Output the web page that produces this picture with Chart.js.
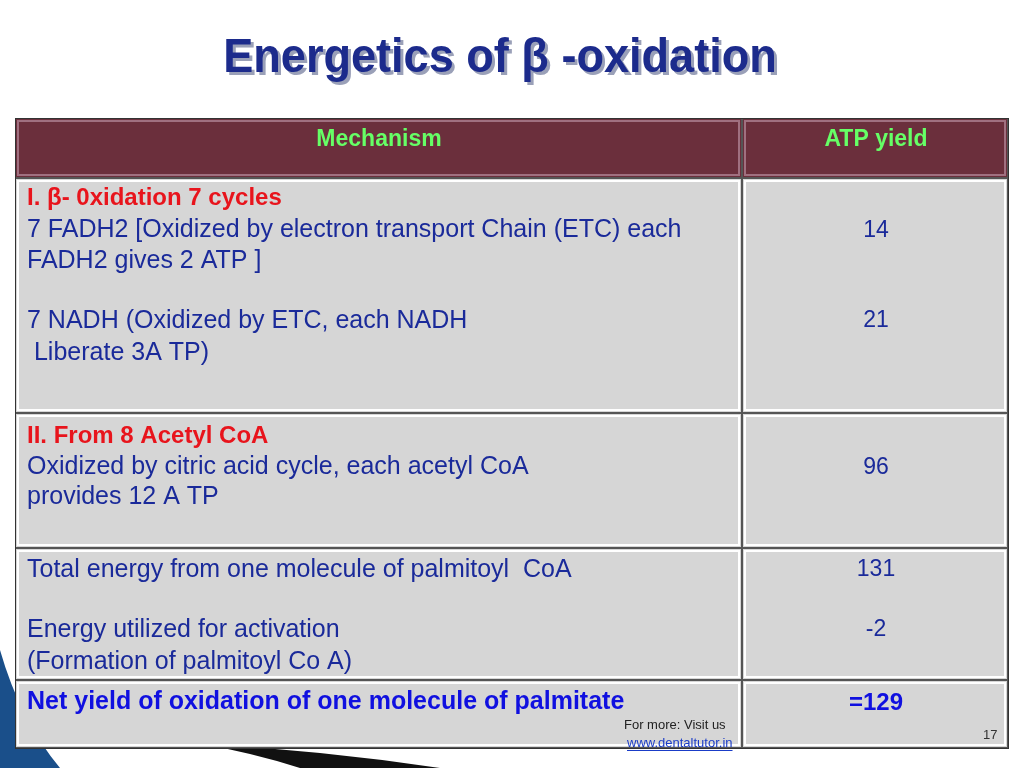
<!DOCTYPE html>
<html><head><meta charset="utf-8">
<script src="https://cdn.jsdelivr.net/npm/chart.js@4.4.1/dist/chart.umd.min.js"></script>
<style>html,body{margin:0;padding:0;background:#fff;overflow:hidden}#w{width:1024px;height:768px;position:relative}</style>
</head><body><div id="w"><canvas id="c" width="1024" height="768"></canvas></div>
<script>
const title = "Energetics of \u03b2 -oxidation";
const headers = ["Mechanism", "ATP yield"];
const mechanismLines = [
 ["I. \u03b2- 0xidation 7 cycles", "7 FADH2 [Oxidized by electron transport Chain (ETC) each", "FADH2 gives 2 ATP ]", "", "7 NADH (Oxidized by ETC, each NADH", " Liberate 3A TP)"],
 ["II. From 8 Acetyl CoA", "Oxidized by citric acid cycle, each acetyl CoA", "provides 12 A TP"],
 ["Total energy from one molecule of palmitoyl  CoA", "", "Energy utilized for activation", "(Formation of palmitoyl Co A)"],
 ["Net yield of oxidation of one molecule of palmitate"]
];
const atpLabels = [["14", "21"], ["96"], ["131", "-2"], ["=129"]];
const footer = ["For more: Visit us", "www.dentaltutor.in", "17"];

const rowTops = [118,178,413,548,680,748];
const colX = [15,742,1008];
const lineY = [[198,230,261,291,321,353],[436,467,497],[570,600,630,662],[702]];
const atpY = [[231,321],[468],[570,630],[703]];
const F = '"Liberation Sans", Arial, sans-serif';

const tablePlugin = {
 id:'table',
 beforeDraw(chart){
  const ctx=chart.ctx;
  ctx.save();
  ctx.fillStyle='#fff';ctx.fillRect(0,0,1024,768);
  ctx.fillStyle='#1a4f8a';
  ctx.beginPath();ctx.moveTo(0,650);ctx.quadraticCurveTo(20,720,60,768);ctx.lineTo(0,768);ctx.fill();
  ctx.fillStyle='#111';
  ctx.beginPath();ctx.moveTo(200,744);ctx.quadraticCurveTo(320,750,440,768);ctx.lineTo(300,768);ctx.quadraticCurveTo(250,752,200,744);ctx.fill();
  ctx.font='bold 46px '+F;
  ctx.textAlign='center';ctx.textBaseline='middle';
  ctx.save();ctx.translate(500,59);ctx.scale(0.98,1.05);
  ctx.fillStyle='#9aa0b8';ctx.fillText(title,3,3);
  ctx.fillStyle='#1c2b8c';ctx.fillText(title,0,0);
  ctx.restore();
  for(let r=0;r<5;r++){
   for(let c=0;c<2;c++){
    const x=colX[c],y=rowTops[r],w=colX[c+1]-x,h=rowTops[r+1]-y;
    ctx.fillStyle=r===0?'#6b2f3c':'#d6d6d6';
    ctx.fillRect(x,y,w,h);
    ctx.strokeStyle='#555';ctx.lineWidth=1;ctx.strokeRect(x+0.5,y+0.5,w-1,h-1);
    ctx.strokeStyle=r===0?'#a07080':'#ffffff';ctx.lineWidth=2;
    ctx.strokeRect(x+3,y+3,w-6,h-6);
   }
  }
  ctx.strokeStyle='#333';ctx.lineWidth=1;ctx.strokeRect(15.5,118.5,993,630);
  ctx.font='bold 23px '+F;
  ctx.fillStyle='#66ff66';ctx.textAlign='center';
  ctx.fillText(headers[0],379,140);ctx.fillText(headers[1],876,140);
  ctx.textAlign='left';
  mechanismLines.forEach((lines,r)=>{
   lines.forEach((t,i)=>{
    const first=i===0;
    if(r<2&&first){ctx.font='bold 24px '+F;ctx.fillStyle='#e8141c';}
    else if(r===3){ctx.font='bold 25px '+F;ctx.fillStyle='#1010e0';}
    else {ctx.font='25px '+F;ctx.fillStyle='#1a2a9a';}
    ctx.fillText(t,27,lineY[r][i]);
   });
  });
  ctx.textAlign='center';
  atpLabels.forEach((ls,r)=>ls.forEach((t,i)=>{
   if(r===3){ctx.font='bold 24px '+F;ctx.fillStyle='#1010e0';}
   else {ctx.font='23px '+F;ctx.fillStyle='#1a2a9a';}
   ctx.fillText(t,876,atpY[r][i]);
  }));
  ctx.font='13px '+F;ctx.fillStyle='#222';ctx.textAlign='left';
  ctx.fillText(footer[0],624,725);
  ctx.fillStyle='#1a3cc8';ctx.fillText(footer[1],627,743);
  const wd=ctx.measureText(footer[1]).width;ctx.fillRect(627,750,wd,1);
  ctx.fillStyle='#333';ctx.fillText(footer[2],983,735);
  ctx.restore();
 }
};
new Chart(document.getElementById('c'),{
 type:'scatter',
 data:{datasets:[{data:[],showLine:false}]},
 options:{responsive:false,animation:false,events:[],
  plugins:{legend:{display:false},tooltip:{enabled:false}},
  scales:{x:{display:false},y:{display:false}}},
 plugins:[tablePlugin]
});
</script></body></html>
